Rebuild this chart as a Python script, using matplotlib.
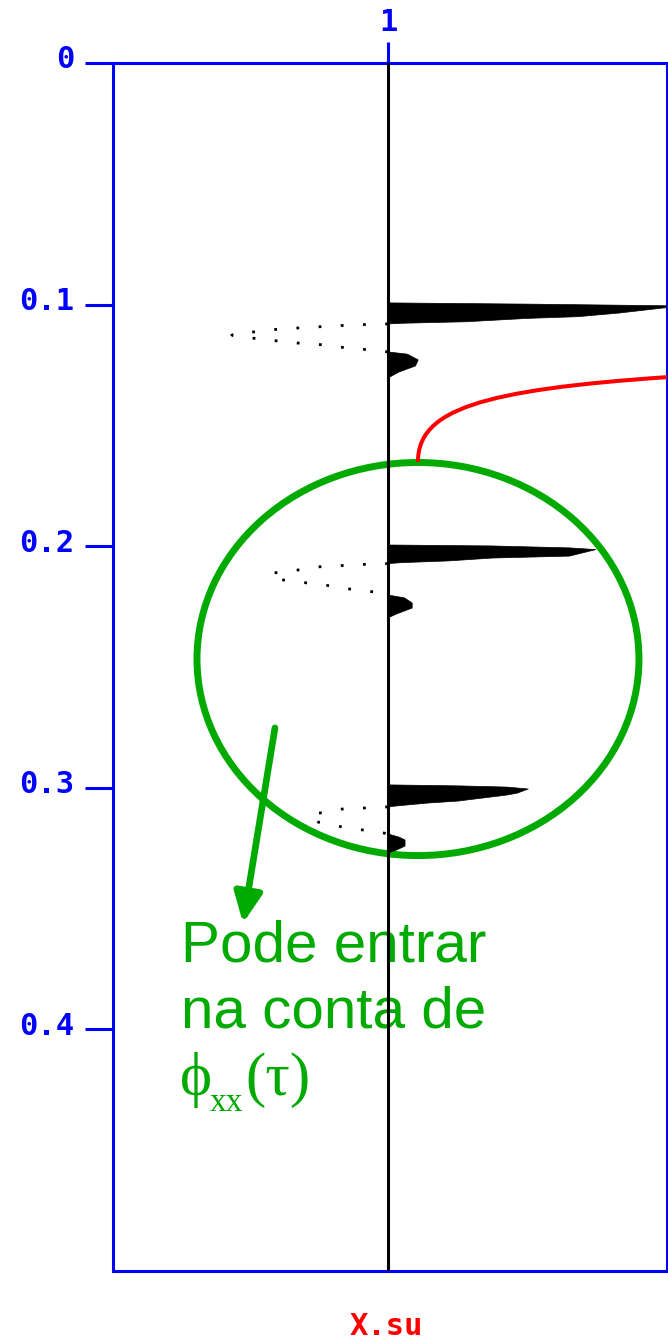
import matplotlib.pyplot as plt
import numpy as np
from matplotlib.patches import Ellipse, PathPatch
from matplotlib.path import Path
from matplotlib.transforms import ScaledTranslation

# wiggle trace: time (s) and amplitude (offset from trace position)
trace_t = np.array([
    0.0,
    0.0993, 0.0998, 0.1006, 0.1014, 0.1035, 0.1050, 0.1057, 0.1071, 0.1077, 0.1080,
    0.1084, 0.1097, 0.1105, 0.1126, 0.1138, 0.1147, 0.1159, 0.1167, 0.1180, 0.1188, 0.1196,
    0.1205, 0.1229, 0.1254, 0.1279, 0.1304,
    0.1995, 0.1999, 0.2007, 0.2014, 0.2041, 0.2049, 0.2061, 0.2068, 0.2072,
    0.2076, 0.2086, 0.2099, 0.2111, 0.2127, 0.2140, 0.2148, 0.2156, 0.2169, 0.2181, 0.2190, 0.2202,
    0.2214, 0.2235, 0.2256, 0.2268, 0.2281, 0.2297,
    0.2988, 0.2992, 0.2997, 0.3005, 0.3022, 0.3030, 0.3055, 0.3063, 0.3075, 0.3079,
    0.3088, 0.3100, 0.3108, 0.3117, 0.3125, 0.3142, 0.3150, 0.3162, 0.3171, 0.3183, 0.3191,
    0.3204, 0.3216, 0.3241, 0.3258, 0.3270,
    0.5,
])
trace_a = np.array([
    0.0,
    0.0, 0.254, 0.55, 0.50, 0.42, 0.345, 0.254, 0.142, 0.029, 0.0,
    -0.065, -0.165, -0.22, -0.284, -0.25, -0.215, -0.165, -0.115, -0.073, -0.029, 0.0,
    0.035, 0.055, 0.05, 0.02, 0.0,
    0.0, 0.19, 0.33, 0.378, 0.33, 0.19, 0.109, 0.025, 0.0,
    -0.053, -0.13, -0.165, -0.209, -0.215, -0.19, -0.165, -0.129, -0.091, -0.06, -0.022, 0.0,
    0.03, 0.044, 0.044, 0.03, 0.015, 0.0,
    0.0, 0.127, 0.216, 0.255, 0.235, 0.216, 0.127, 0.073, 0.016, 0.0,
    -0.084, -0.107, -0.14, -0.14, -0.14, -0.127, -0.107, -0.084, -0.058, -0.016, 0.0,
    0.02, 0.031, 0.031, 0.015, 0.0,
    0.0,
])
trace_x = 1.0

y_ticks = [0, 0.1, 0.2, 0.3, 0.4]
y_labels = ['0', '0.1', '0.2', '0.3', '0.4']
x_ticks = [1]
x_labels = ['1']

green = '#00aa00'
mono = 'DejaVu Sans Mono'
serif = ['Liberation Serif', 'DejaVu Serif']

fig = plt.figure(figsize=(6.68, 13.42), dpi=100)
ax = fig.add_axes([113 / 668, 71 / 1342, 553.5 / 668, 1208 / 1342])
ax.set_xlim(0.5, 1.5064)
ax.set_ylim(0.5, 0.0)

for s in ax.spines.values():
    s.set_color('blue')
    s.set_linewidth(2.2)

ax.xaxis.tick_top()
ax.set_xticks(x_ticks, x_labels)
ax.set_yticks(y_ticks, y_labels)
ax.tick_params(axis='y', direction='out', length=20, width=2.2, color='blue',
               labelcolor='blue', pad=8, labelsize=22)
ax.tick_params(axis='x', direction='out', length=15, width=2.2, color='blue',
               labelcolor='blue', pad=3.6, labelsize=22)
for lab in ax.get_yticklabels() + ax.get_xticklabels():
    lab.set_fontfamily(mono)
    lab.set_fontweight('bold')
shift = ScaledTranslation(0, 6 / 100, fig.dpi_scale_trans)
for lab in ax.get_yticklabels():
    lab.set_transform(lab.get_transform() + shift)

# variable-area wiggle: filled positive lobes, sparse dotted negative lobes
ax.axvline(trace_x, color='black', lw=2.2, zorder=4)
ax.fill_betweenx(trace_t, trace_x, trace_x + trace_a, where=trace_a >= 0,
                 interpolate=True, color='black', lw=0.5, zorder=4)
neg = trace_a < 0
keep = neg | np.roll(neg, 1) | np.roll(neg, -1)
ax.plot(np.where(keep, trace_x + trace_a, np.nan), trace_t, color='black',
        lw=2.0, ls=(0, (1, 7)), zorder=4)

# annotation
ax.add_patch(Ellipse((1.0545, 0.2467), 0.8036, 0.1627, fill=False,
                     ec=green, lw=5, zorder=2))
curve = Path([(1.0545, 0.1651), (1.0545, 0.1436), (1.1673, 0.1353), (1.509, 0.1300)],
             [Path.MOVETO, Path.CURVE4, Path.CURVE4, Path.CURVE4])
ax.add_patch(PathPatch(curve, fill=False, ec='red', lw=2.9, zorder=3))
ax.annotate('', xy=(0.7364, 0.356), xytext=(0.7945, 0.2752),
            arrowprops=dict(arrowstyle='-|>,head_length=0.9,head_width=0.42',
                            mutation_scale=20, color=green, lw=4.8,
                            shrinkA=0, shrinkB=0), zorder=2)

tf = fig.transFigure
ax.text(181 / 668, 1 - 962 / 1342, 'Pode entrar', transform=tf, color=green,
        fontsize=42, family='Liberation Sans', va='baseline', zorder=1)
ax.text(181 / 668, 1 - 1027 / 1342, 'na conta de', transform=tf, color=green,
        fontsize=42, family='Liberation Sans', va='baseline', zorder=1)
ax.text(180 / 668, 1 - 1095 / 1342, '\u03d5', transform=tf, color=green,
        fontsize=44, family=serif, va='baseline', zorder=1)
ax.text(210 / 668, 1 - 1111 / 1342, 'xx', transform=tf, color=green,
        fontsize=24, family=serif, va='baseline', zorder=1)
ax.text(245 / 668, 1 - 1095 / 1342, '(\u03c4)', transform=tf, color=green,
        fontsize=44, family=serif, va='baseline', zorder=1)

fig.text(386 / 668, 7 / 1342, 'X.su', color='red', fontsize=22, family=mono,
         fontweight='bold', ha='center', va='baseline')

fig.savefig('out.png', dpi=100)
